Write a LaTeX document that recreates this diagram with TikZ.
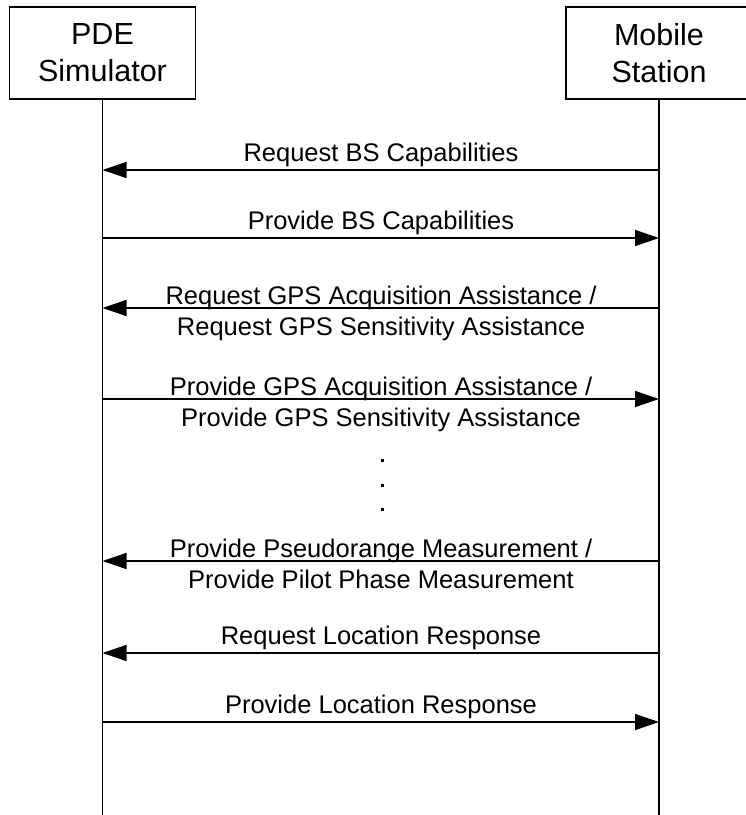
\documentclass[tikz,border=0pt]{standalone}
\usepackage{fontspec}
\setmainfont{Liberation Sans}
\usetikzlibrary{arrows.meta}
\begin{document}
\begin{tikzpicture}[x=1pt,y=-1pt,
  actor/.style={draw, line width=1.5pt, minimum width=186pt, minimum height=92pt, inner sep=0pt, align=center, font=\fontsize{30.5}{37}\selectfont},
  life/.style={line width=1.5pt},
  msg/.style={line width=1.5pt, -{Triangle[length=24pt,width=16pt]}},
  lbl/.style={font=\fontsize{25.5}{31}\selectfont, inner sep=0pt, align=center, anchor=base},
  dotmark/.style={fill, minimum size=3pt, inner sep=0pt}]
\useasboundingbox (0,0) rectangle (746,815);
\begin{scope}
\clip (0,0) rectangle (746,815);
\node[actor] (pde) at (102.5,53) {PDE\\Simulator};
\node[actor] (ms) at (659,53) {Mobile\\Station};
\coordinate (pdeend) at (102.5,815);
\coordinate (msend) at (659,815);
\draw[life] (pde.south) -- (pdeend);
\draw[life] (ms.south) -- (msend);
\foreach \n/\y in {1/170,2/238,3/308,4/399,5/561,6/653,7/722}{
  \coordinate (p\n) at (102.5,\y);
  \coordinate (m\n) at (659,\y);
}
\draw[msg] (m1) -- (p1);
\draw[msg] (p2) -- (m2);
\draw[msg] (m3) -- (p3);
\draw[msg] (p4) -- (m4);
\draw[msg] (m5) -- (p5);
\draw[msg] (m6) -- (p6);
\draw[msg] (p7) -- (m7);
\node[lbl] (l1) at (381,161) {Request BS Capabilities};
\node[lbl] (l2) at (381,229) {Provide BS Capabilities};
\node[lbl] (l3) at (381,335) {Request GPS Acquisition Assistance /\\Request GPS Sensitivity Assistance};
\node[lbl] (l4) at (381,426) {Provide GPS Acquisition Assistance /\\Provide GPS Sensitivity Assistance};
\node[lbl] (l5) at (381,588) {Provide Pseudorange Measurement /\\Provide Pilot Phase Measurement};
\node[lbl] (l6) at (381,644) {Request Location Response};
\node[lbl] (l7) at (381,713) {Provide Location Response};
\node[dotmark] (d1) at (382,460) {};
\node[dotmark] (d2) at (382,485) {};
\node[dotmark] (d3) at (382,509) {};
\end{scope}
\end{tikzpicture}
\end{document}
